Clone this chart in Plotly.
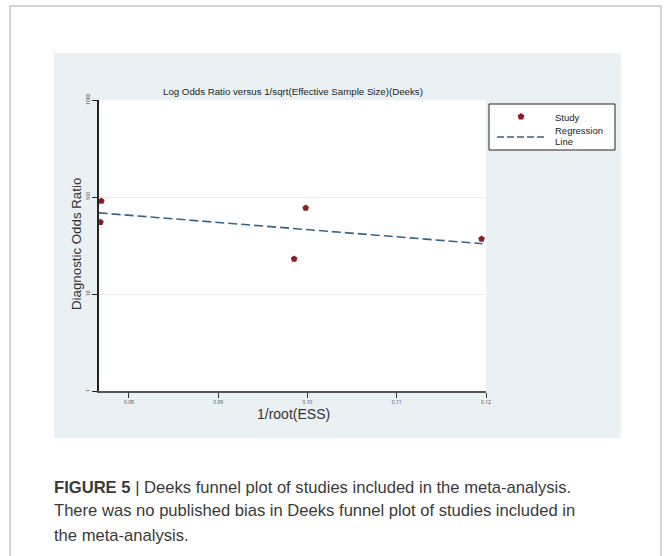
import plotly.graph_objects as go

# ---- data ----
study_x = [0.0769, 0.0768, 0.0998, 0.0985, 0.1195]
study_dor = [91, 55, 77, 23, 37]
reg_x = [0.0766, 0.1196]
reg_dor = [68.7, 33.0]
x_ticks = [0.08, 0.09, 0.10, 0.11, 0.12]
x_ticklabels = ["0.08", "0.09", "0.10", "0.11", "0.12"]
y_ticks = [1, 10, 100, 1000]
y_ticklabels = ["1", "10", "100", "1000"]

W, H = 664, 556
L, R, T, B = 99, 486, 100, 391  # plot area in pixels

MARKER_COLOR = "#8E1C26"
LINE_COLOR = "#36648B"
FONT = "Liberation Sans, Arial"


def px(x):
    return (x - L) / (R - L)


def py(y):
    return (B - y) / (B - T)


fig = go.Figure()
fig.add_trace(go.Scatter(
    x=study_x, y=study_dor, mode="markers", name="Study",
    marker=dict(symbol="pentagon", size=7, color=MARKER_COLOR),
))
fig.add_trace(go.Scatter(
    x=reg_x, y=reg_dor, mode="lines", name="Regression Line",
    line=dict(color=LINE_COLOR, width=1.6, dash="9px,4px"),
))


def pentagon_path(cx, cy, r):
    import math
    pts = []
    for k in range(5):
        a = math.radians(90 + 72 * k)
        pts.append((px(cx + r * math.cos(a)), py(cy - r * math.sin(a))))
    return "M" + " L".join(f"{a:.5f},{b:.5f}" for a, b in pts) + " Z"


shapes = [
    # outer frame
    dict(type="rect", xref="paper", yref="paper", x0=px(10), x1=px(661), y0=py(600), y1=py(6),
         line=dict(color="#A8A8A8", width=1), fillcolor="white", layer="below"),
    # grey panel
    dict(type="rect", xref="paper", yref="paper", x0=px(54), x1=px(621), y0=py(438), y1=py(53),
         line=dict(width=0), fillcolor="#EAF1F4", layer="below"),
    # white plot region
    dict(type="rect", xref="paper", yref="paper", x0=0, x1=1, y0=0, y1=1,
         line=dict(width=0), fillcolor="white", layer="below"),
    # legend box
    dict(type="rect", xref="paper", yref="paper", x0=px(489), x1=px(615), y0=py(150), y1=py(104),
         line=dict(color="#222", width=1), fillcolor="white", layer="above"),
    # legend marker
    dict(type="path", xref="paper", yref="paper", path=pentagon_path(521, 116.5, 3.6),
         line=dict(width=0), fillcolor=MARKER_COLOR, layer="above"),
    # legend dashed line
    dict(type="line", xref="paper", yref="paper", x0=px(497), x1=px(545), y0=py(137), y1=py(137),
         line=dict(color=LINE_COLOR, width=1.6, dash="7px,3px"), layer="above"),
]

annotations = [
    dict(text="Log Odds Ratio versus 1/sqrt(Effective Sample Size)(Deeks)", xref="paper", yref="paper",
         x=px(293), y=py(91), showarrow=False, xanchor="center", yanchor="middle",
         font=dict(family=FONT, size=9.7, color="#222")),
    dict(text="Diagnostic Odds Ratio", xref="paper", yref="paper", x=px(76), y=py(244),
         showarrow=False, textangle=-90, xanchor="center", yanchor="middle",
         font=dict(family=FONT, size=13.3, color="#333")),
    dict(text="1/root(ESS)", xref="paper", yref="paper", x=px(293), y=py(413.5),
         showarrow=False, xanchor="center", yanchor="middle",
         font=dict(family=FONT, size=14, color="#333")),
]

for txt, yy in [("Study", 117), ("Regression", 130), ("Line", 141)]:
    annotations.append(dict(text=txt, xref="paper", yref="paper", x=px(553), y=py(yy),
                            showarrow=False, xanchor="left", yanchor="middle",
                            font=dict(family=FONT, size=9.5, color="#222")))

caption = [
    "<b>FIGURE 5</b> | Deeks funnel plot of studies included in the meta-analysis.",
    "There was no published bias in Deeks funnel plot of studies included in",
    "the meta-analysis.",
]
for i, line in enumerate(caption):
    annotations.append(dict(text=line, xref="paper", yref="paper", x=px(52), y=py(487 + 24 * i),
                            showarrow=False, xanchor="left", yanchor="middle",
                            font=dict(family=FONT, size=16.6, color="#3a3a3a")))

fig.update_layout(
    width=W, height=H,
    margin=dict(l=L, r=W - R, t=T, b=H - B, pad=0),
    paper_bgcolor="white", plot_bgcolor="rgba(0,0,0,0)",
    shapes=shapes, annotations=annotations,
    showlegend=False,
    xaxis=dict(range=[0.07664, 0.12], tickvals=x_ticks, ticktext=x_ticklabels,
               showgrid=False, zeroline=False, showline=True, linecolor="#555", linewidth=1.5,
               ticks="outside", ticklen=5, tickcolor="#333",
               tickfont=dict(size=5, color="#444")),
    yaxis=dict(type="log", range=[0, 3], tickvals=y_ticks, ticktext=y_ticklabels,
               showgrid=True, gridcolor="#EEEEEE", gridwidth=1, zeroline=False,
               showline=True, linecolor="#222", linewidth=1.5,
               ticks="outside", ticklen=5, tickcolor="#222", tickangle=-90,
               tickfont=dict(size=5, color="#444")),
)

fig.write_html("out.html", config={"displayModeBar": False},
               post_script="document.body.style.margin='0px';document.body.style.overflow='hidden';")
